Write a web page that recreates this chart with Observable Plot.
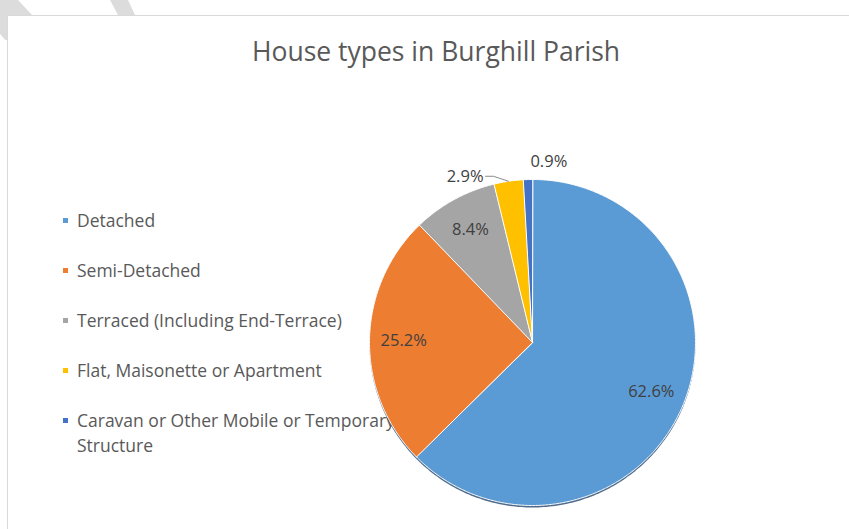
<!DOCTYPE html>
<html><head><meta charset="utf-8">
<script src="https://cdn.jsdelivr.net/npm/d3@7"></script>
<script src="https://cdn.jsdelivr.net/npm/@observablehq/plot@0.6"></script>
<style>
body{margin:0;background:#fff;}
#wrap{position:relative;width:849px;height:529px;overflow:hidden;font-family:"Open Sans",Lato,sans-serif;}
#wm{position:absolute;left:0;top:0;}
#frame{position:absolute;left:7px;top:15px;width:880px;height:560px;border:1px solid #d9d9d9;background:#fff;}
#title{position:absolute;left:0;width:872px;top:34px;text-align:center;font-size:26.5px;color:#595959;line-height:34px;}
#legend{position:absolute;left:63px;top:208px;width:345px;}
.item{position:relative;padding-left:14px;font-size:17.5px;line-height:25px;color:#595959;margin-bottom:25px;}
.sw{position:absolute;left:0;top:10px;width:5px;height:5px;}
#chart{position:absolute;left:0;top:0;}
</style></head>
<body><div id="wrap">
<svg id="wm" width="849" height="40"><polygon points="0,0 18,0 32,15 7,15 7,42 0,34" fill="#dcdcdc"/><polygon points="110,0 128,0 135,15 118,15" fill="#dcdcdc"/></svg>
<div id="frame"></div><div id="title">House types in Burghill Parish</div><div id="legend"></div><div id="chart"></div></div>
<script>
const categories = ["Detached","Semi-Detached","Terraced (Including End-Terrace)","Flat, Maisonette or Apartment","Caravan or Other Mobile or Temporary Structure"];
const shares = [62.6, 25.2, 8.4, 2.9, 0.9];
const labels = ["62.6%","25.2%","8.4%","2.9%","0.9%"];
const colors = ["#5B9BD5","#ED7D31","#A5A5A5","#FFC000","#4472C4"];

// legend
const leg = document.getElementById("legend");
categories.forEach((c,i)=>{
  const d=document.createElement("div");d.className="item";
  const s=document.createElement("span");s.className="sw";s.style.background=colors[i];
  d.appendChild(s);d.appendChild(document.createTextNode(c));leg.appendChild(d);
});

const arcs = d3.pie().sort(null).value(d=>d)(shares);
const pts = [];
arcs.forEach((a,i)=>{
  pts.push({cat:categories[i],x:0,y:0});
  const n=Math.max(2,Math.ceil((a.endAngle-a.startAngle)/(Math.PI/360)));
  for(let k=0;k<=n;k++){const t=a.startAngle+(a.endAngle-a.startAngle)*k/n;pts.push({cat:categories[i],x:Math.sin(t),y:Math.cos(t)});}
});
const shadow = d3.range(0,361).map(k=>{const t=k*Math.PI/180;return {x:Math.sin(t),y:Math.cos(t)};});
const mid = a=>(a.startAngle+a.endAngle)/2;
const inside = arcs.slice(0,3).map((a,i)=>({x:0.79*Math.sin(mid(a)),y:0.79*Math.cos(mid(a)),t:labels[i]}));
const R=163;
const aF=arcs[3], aC=arcs[4];
const e={x:Math.sin(mid(aF)),y:Math.cos(mid(aF))};
const elbow={x:e.x-15/R,y:e.y+5/R};
const end={x:elbow.x-8/R,y:elbow.y};
const leader=[e,elbow,end];
const lblF=[{x:end.x,y:end.y,t:labels[3]}];
const lblC=[{x:1.1*Math.sin(mid(aC)),y:1.1*Math.cos(mid(aC)),t:labels[4]}];

const cx=532, cy=342, W=849, H=529;
const chart = Plot.plot({
  width:W,height:H,
  marginLeft:cx-R,marginRight:W-(cx+R),marginTop:cy-R,marginBottom:H-(cy+R),
  x:{domain:[-1,1],axis:null},y:{domain:[-1,1],axis:null},
  color:{domain:categories,range:colors},
  style:{background:"transparent",overflow:"visible"},
  marks:[
    Plot.line(shadow,{x:"x",y:"y",fill:"#24496e",fillOpacity:0.8,stroke:"none",curve:"linear-closed",dy:2}),
    Plot.line(pts,{x:"x",y:"y",z:"cat",fill:"cat",stroke:"white",strokeWidth:1,curve:"linear-closed"}),
    Plot.text(inside,{x:"x",y:"y",text:"t",fill:"#404040",fontSize:16.5,fontFamily:"Open Sans"}),
    Plot.line(leader,{x:"x",y:"y",stroke:"#8c8c8c",strokeWidth:1}),
    Plot.text(lblF,{x:"x",y:"y",text:"t",textAnchor:"end",dx:-2,fill:"#404040",fontSize:16.5,fontFamily:"Open Sans"}),
    Plot.text(lblC,{x:"x",y:"y",text:"t",textAnchor:"start",dx:3,dy:-2,fill:"#404040",fontSize:16.5,fontFamily:"Open Sans"})
  ]
});
document.getElementById("chart").appendChild(chart);
</script></body></html>
